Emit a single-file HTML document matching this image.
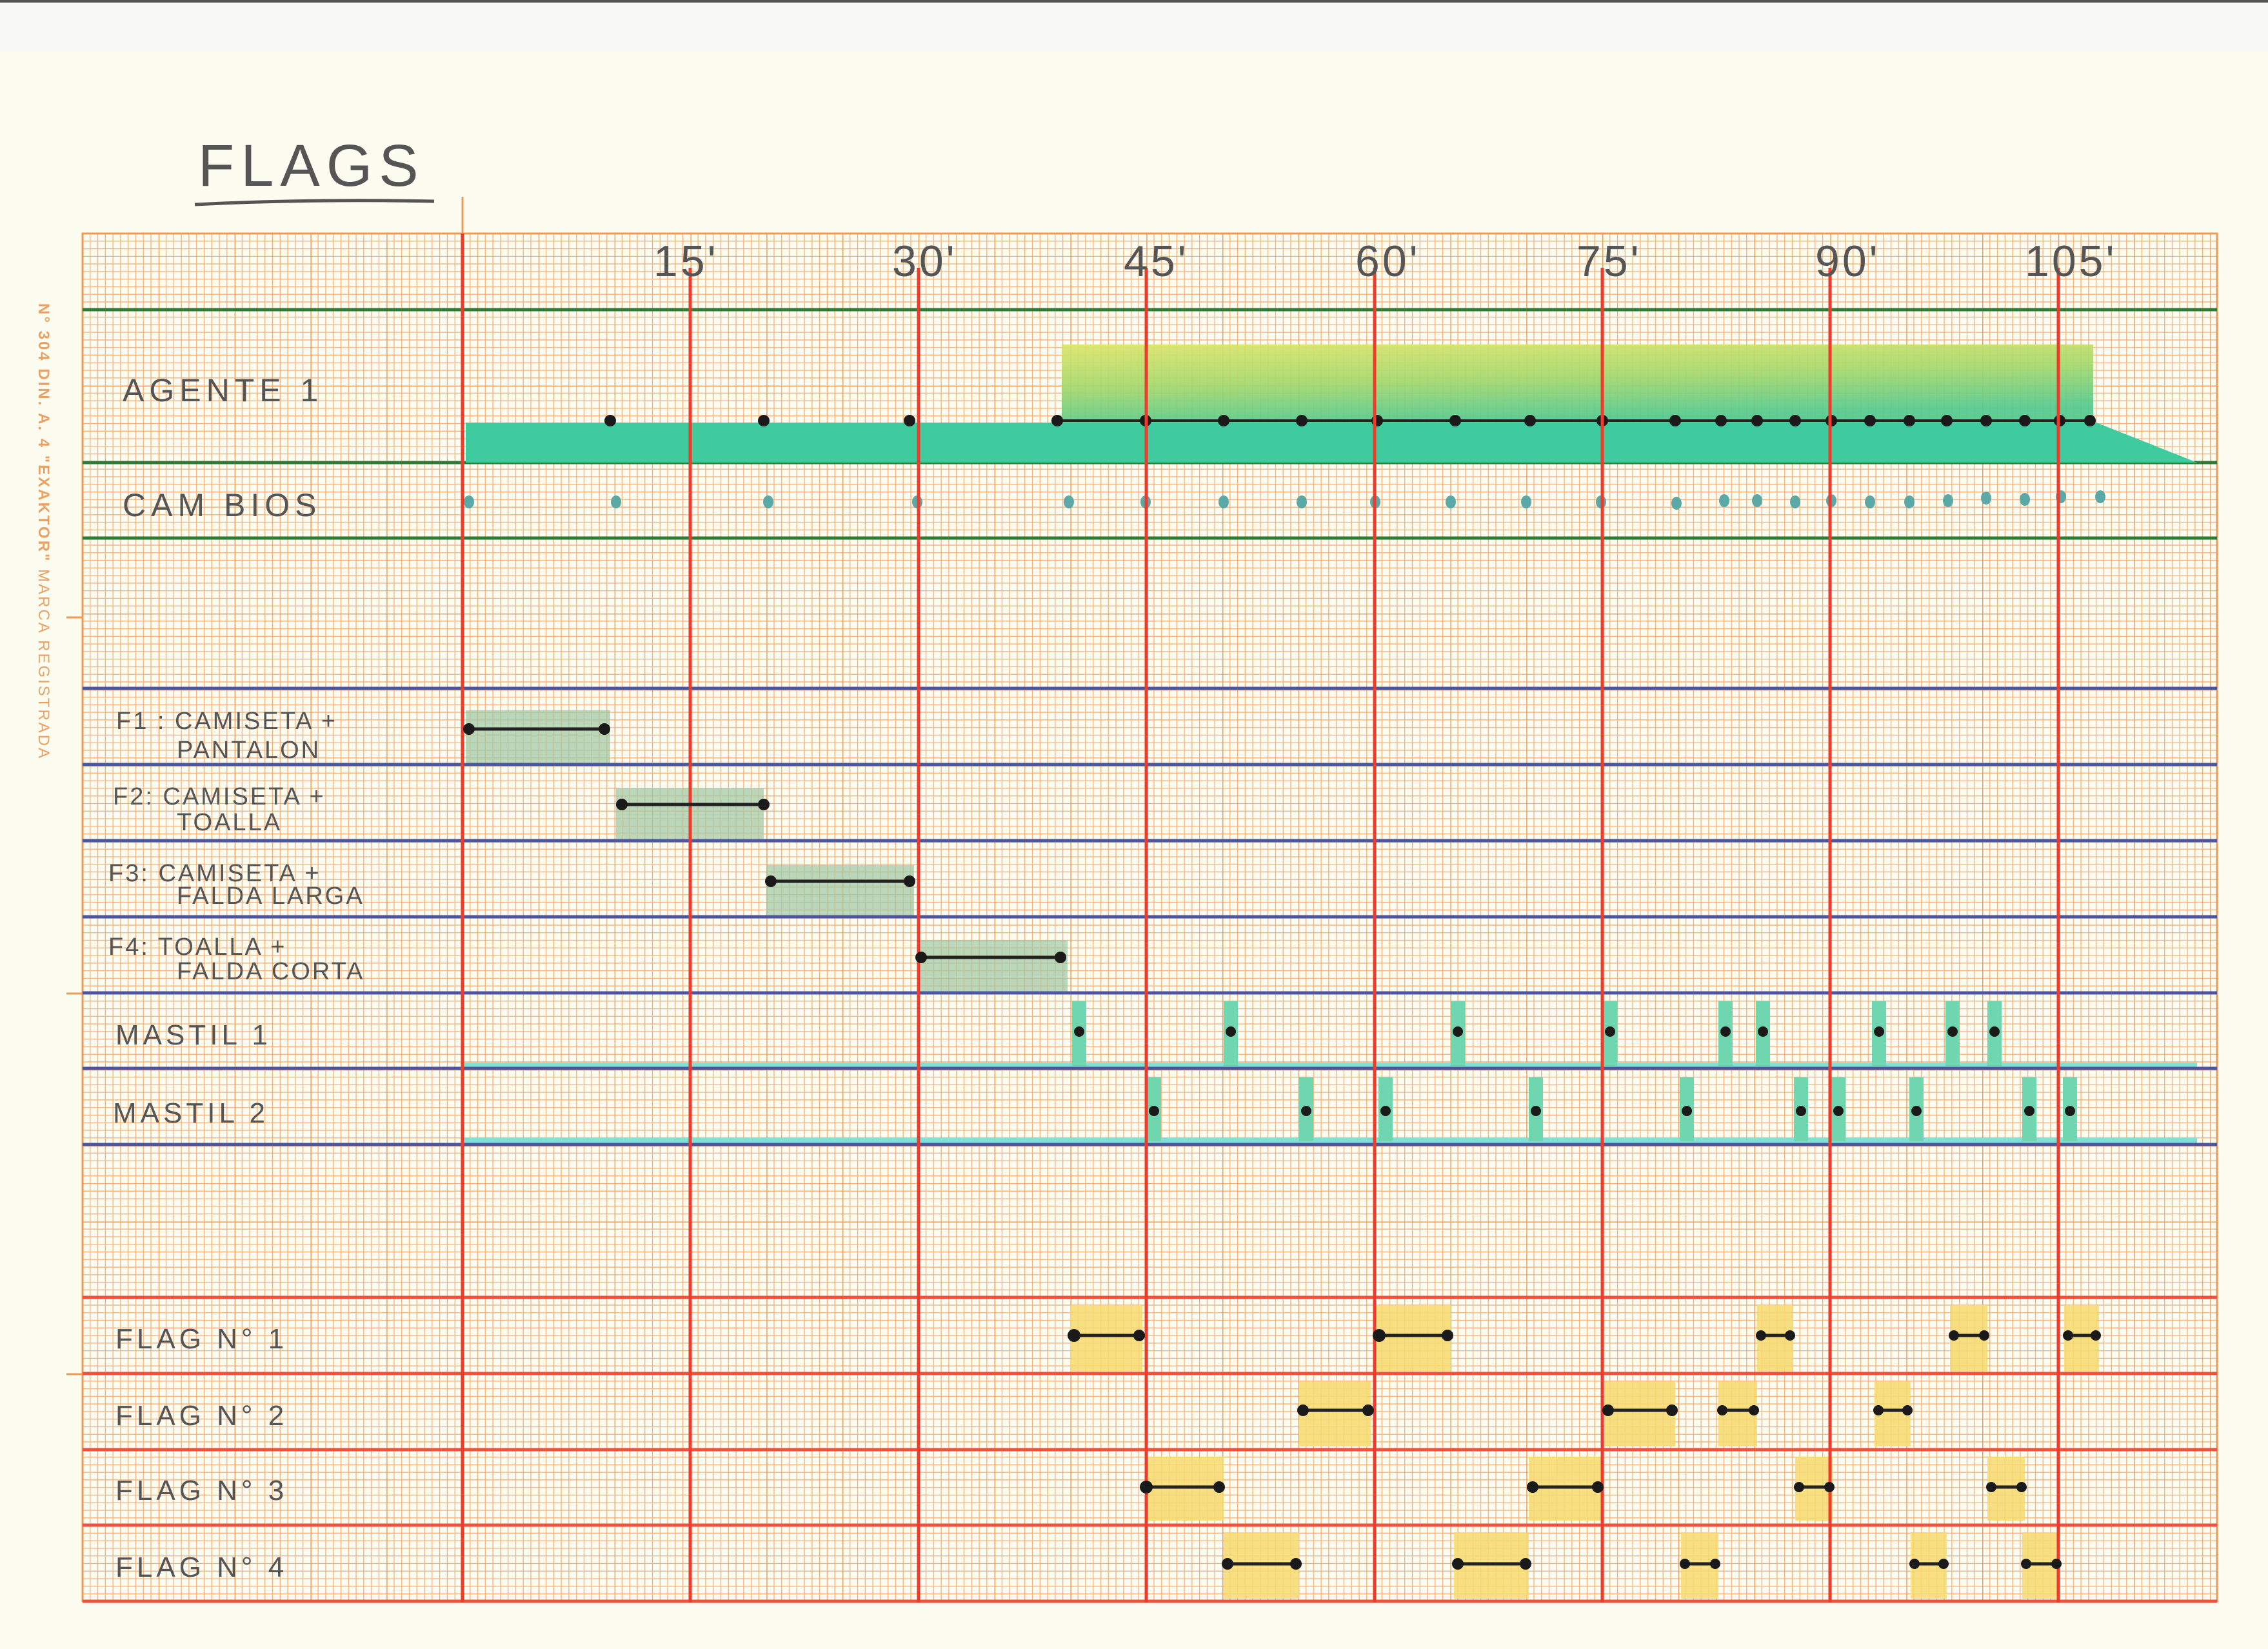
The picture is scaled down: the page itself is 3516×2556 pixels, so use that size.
<!DOCTYPE html>
<html><head><meta charset="utf-8"><style>
html,body{margin:0;padding:0;background:#fdfcf0;}
svg{display:block}
text{font-family:"Liberation Sans",sans-serif;fill:#555;}
</style></head><body>
<svg width="3516" height="2556" viewBox="0 0 3516 2556" xmlns="http://www.w3.org/2000/svg">
<defs>
<pattern id="g" x="128" y="362" width="117.8" height="117.8" patternUnits="userSpaceOnUse">
<g stroke="#f3b07a" stroke-width="1.3">
<line x1="11.78" y1="0" x2="11.78" y2="117.8"/><line x1="23.56" y1="0" x2="23.56" y2="117.8"/><line x1="35.34" y1="0" x2="35.34" y2="117.8"/><line x1="47.12" y1="0" x2="47.12" y2="117.8"/><line x1="58.9" y1="0" x2="58.9" y2="117.8"/><line x1="70.68" y1="0" x2="70.68" y2="117.8"/><line x1="82.46" y1="0" x2="82.46" y2="117.8"/><line x1="94.24" y1="0" x2="94.24" y2="117.8"/><line x1="106.02" y1="0" x2="106.02" y2="117.8"/>
<line y1="11.78" x1="0" y2="11.78" x2="117.8"/><line y1="23.56" x1="0" y2="23.56" x2="117.8"/><line y1="35.34" x1="0" y2="35.34" x2="117.8"/><line y1="47.12" x1="0" y2="47.12" x2="117.8"/><line y1="58.9" x1="0" y2="58.9" x2="117.8"/><line y1="70.68" x1="0" y2="70.68" x2="117.8"/><line y1="82.46" x1="0" y2="82.46" x2="117.8"/><line y1="94.24" x1="0" y2="94.24" x2="117.8"/><line y1="106.02" x1="0" y2="106.02" x2="117.8"/>
</g>
<g stroke="#eca060" stroke-width="3"><line x1="0" y1="0" x2="0" y2="117.8"/><line x1="0" y1="0" x2="117.8" y2="0"/></g>
</pattern>
<linearGradient id="yg" x1="0" y1="0" x2="0.3" y2="1">
<stop offset="0" stop-color="#dbe56a"/><stop offset="0.5" stop-color="#a6d86c"/><stop offset="1" stop-color="#52c98e"/>
</linearGradient>
</defs>
<rect x="0" y="0" width="3516" height="80" fill="#f8f8f6"/>
<rect x="0" y="0" width="3516" height="4" fill="#555"/>
<rect x="0" y="80" width="3516" height="2476" fill="#fdfcf0"/>

<rect x="128" y="362" width="3309" height="2120" fill="url(#g)"/>
<rect x="128" y="362" width="3309" height="2120" fill="none" stroke="#ec9a55" stroke-width="3"/>
<line x1="717" y1="305" x2="717" y2="362" stroke="#ec9a55" stroke-width="3"/>
<g stroke="#ec9a55" stroke-width="3"><line x1="103" y1="957" x2="128" y2="957"/><line x1="103" y1="1540" x2="128" y2="1540"/><line x1="103" y1="2130" x2="128" y2="2130"/></g>

<text transform="translate(60,470) rotate(90)" font-size="24" font-weight="bold" style="fill:#e9a265" letter-spacing="3">N° 304  DIN. A. 4 "EXAKTOR" <tspan font-weight="normal">MARCA REGISTRADA</tspan></text>

<g stroke="#2f7a34" stroke-width="5"><line x1="128" y1="480" x2="3437" y2="480"/><line x1="128" y1="717" x2="3437" y2="717"/><line x1="128" y1="834" x2="3437" y2="834"/></g>

<polygon points="722,655 3250,655 3406,717 722,717" fill="#3fcb9d"/>
<rect x="1646" y="534" width="1599" height="121" fill="url(#yg)" opacity="0.92"/>
<line x1="1639" y1="652" x2="3240" y2="652" stroke="#222" stroke-width="4"/>
<g fill="#1a1a1a">
<circle cx="946" cy="652" r="9"/><circle cx="1184" cy="652" r="9"/><circle cx="1410" cy="652" r="9"/><circle cx="1639" cy="652" r="9"/><circle cx="1776" cy="652" r="9"/><circle cx="1897" cy="652" r="9"/><circle cx="2018" cy="652" r="9"/><circle cx="2135" cy="652" r="9"/><circle cx="2256" cy="652" r="9"/><circle cx="2372" cy="652" r="9"/><circle cx="2484" cy="652" r="9"/><circle cx="2597" cy="652" r="9"/><circle cx="2668" cy="652" r="9"/><circle cx="2724" cy="652" r="9"/><circle cx="2783" cy="652" r="9"/><circle cx="2839" cy="652" r="9"/><circle cx="2899" cy="652" r="9"/><circle cx="2960" cy="652" r="9"/><circle cx="3018" cy="652" r="9"/><circle cx="3079" cy="652" r="9"/><circle cx="3139" cy="652" r="9"/><circle cx="3193" cy="652" r="9"/><circle cx="3240" cy="652" r="9"/>
</g>
<g fill="#5aa9a6">
<ellipse cx="727" cy="778" rx="8" ry="10"/><ellipse cx="955" cy="778" rx="8" ry="10"/><ellipse cx="1191" cy="778" rx="8" ry="10"/><ellipse cx="1422" cy="778" rx="8" ry="10"/><ellipse cx="1657" cy="778" rx="8" ry="10"/><ellipse cx="1776" cy="778" rx="8" ry="10"/><ellipse cx="1897" cy="778" rx="8" ry="10"/><ellipse cx="2018" cy="778" rx="8" ry="10"/><ellipse cx="2132" cy="778" rx="8" ry="10"/><ellipse cx="2249" cy="778" rx="8" ry="10"/><ellipse cx="2366" cy="778" rx="8" ry="10"/><ellipse cx="2482" cy="778" rx="8" ry="10"/><ellipse cx="2599" cy="780" rx="8" ry="10"/><ellipse cx="2673" cy="776" rx="8" ry="10"/><ellipse cx="2724" cy="776" rx="8" ry="10"/><ellipse cx="2783" cy="778" rx="8" ry="10"/><ellipse cx="2839" cy="776" rx="8" ry="10"/><ellipse cx="2899" cy="778" rx="8" ry="10"/><ellipse cx="2960" cy="778" rx="8" ry="10"/><ellipse cx="3020" cy="776" rx="8" ry="10"/><ellipse cx="3079" cy="772" rx="8" ry="10"/><ellipse cx="3139" cy="774" rx="8" ry="10"/><ellipse cx="3195" cy="770" rx="8" ry="10"/><ellipse cx="3256" cy="770" rx="8" ry="10"/>
</g>

<g fill="#9ec8a4" opacity="0.7">
<rect x="722" y="1101" width="224" height="85"/><rect x="955" y="1222" width="229" height="78"/><rect x="1188" y="1341" width="229" height="81"/><rect x="1422" y="1457" width="233" height="83"/>
</g>

<g fill="#7fe0d6"><rect x="717" y="1647" width="2689" height="10"/><rect x="717" y="1764" width="2689" height="10"/></g>
<g fill="#6fd6b0">
<rect x="1662" y="1552" width="22" height="100"/><rect x="1897" y="1552" width="22" height="100"/><rect x="2249" y="1552" width="22" height="100"/><rect x="2485" y="1552" width="22" height="100"/><rect x="2664" y="1552" width="22" height="100"/><rect x="2722" y="1552" width="22" height="100"/><rect x="2902" y="1552" width="22" height="100"/><rect x="3016" y="1552" width="22" height="100"/><rect x="3081" y="1552" width="22" height="100"/>
<rect x="1778" y="1670" width="22" height="99"/><rect x="2014" y="1670" width="22" height="99"/><rect x="2137" y="1670" width="22" height="99"/><rect x="2370" y="1670" width="22" height="99"/><rect x="2604" y="1670" width="22" height="99"/><rect x="2781" y="1670" width="22" height="99"/><rect x="2839" y="1670" width="22" height="99"/><rect x="2960" y="1670" width="22" height="99"/><rect x="3135" y="1670" width="22" height="99"/><rect x="3198" y="1670" width="22" height="99"/>
</g>

<g fill="#f6db72" opacity="0.88">
<rect x="1659" y="2023" width="112" height="103"/><rect x="2132" y="2023" width="117" height="103"/><rect x="2724" y="2023" width="56" height="103"/><rect x="3023" y="2023" width="58" height="103"/><rect x="3200" y="2023" width="54" height="103"/>
<rect x="2014" y="2141" width="112" height="101"/><rect x="2487" y="2141" width="110" height="101"/><rect x="2664" y="2141" width="60" height="101"/><rect x="2906" y="2141" width="56" height="101"/>
<rect x="1776" y="2258" width="121" height="99"/><rect x="2370" y="2258" width="112" height="99"/><rect x="2783" y="2258" width="58" height="99"/><rect x="3081" y="2258" width="58" height="99"/>
<rect x="1897" y="2375" width="117" height="103"/><rect x="2254" y="2375" width="116" height="103"/><rect x="2606" y="2375" width="58" height="103"/><rect x="2962" y="2375" width="56" height="103"/><rect x="3135" y="2375" width="58" height="103"/>
</g>

<g stroke="#4b55a0" stroke-width="5"><line x1="128" y1="1067" x2="3437" y2="1067"/><line x1="128" y1="1185" x2="3437" y2="1185"/><line x1="128" y1="1303" x2="3437" y2="1303"/><line x1="128" y1="1421" x2="3437" y2="1421"/><line x1="128" y1="1539" x2="3437" y2="1539"/><line x1="128" y1="1656" x2="3437" y2="1656"/><line x1="128" y1="1774" x2="3437" y2="1774"/></g>
<g stroke="#f0503c" stroke-width="5"><line x1="128" y1="2011" x2="3437" y2="2011"/><line x1="128" y1="2129" x2="3437" y2="2129"/><line x1="128" y1="2247" x2="3437" y2="2247"/><line x1="128" y1="2364" x2="3437" y2="2364"/><line x1="128" y1="2482" x2="3437" y2="2482"/></g>
<g stroke="#ee3b2b" stroke-width="5"><line x1="717" y1="362" x2="717" y2="2484"/><line x1="1070" y1="415" x2="1070" y2="2484"/><line x1="1424" y1="415" x2="1424" y2="2484"/><line x1="1777" y1="415" x2="1777" y2="2484"/><line x1="2131" y1="415" x2="2131" y2="2484"/><line x1="2484" y1="415" x2="2484" y2="2484"/><line x1="2837" y1="415" x2="2837" y2="2484"/><line x1="3191" y1="415" x2="3191" y2="2484"/></g>

<g stroke="#222" stroke-width="5">
<line x1="727" y1="1130" x2="937" y2="1130"/><line x1="964" y1="1247" x2="1184" y2="1247"/><line x1="1195" y1="1366" x2="1410" y2="1366"/><line x1="1428" y1="1484" x2="1644" y2="1484"/>
<line x1="1665" y1="2070" x2="1766" y2="2070"/><line x1="2138" y1="2070" x2="2244" y2="2070"/><line x1="2730" y1="2070" x2="2775" y2="2070"/><line x1="3029" y1="2070" x2="3076" y2="2070"/><line x1="3206" y1="2070" x2="3249" y2="2070"/>
<line x1="2020" y1="2186" x2="2121" y2="2186"/><line x1="2493" y1="2186" x2="2592" y2="2186"/><line x1="2670" y1="2186" x2="2719" y2="2186"/><line x1="2912" y1="2186" x2="2957" y2="2186"/>
<line x1="1777" y1="2305" x2="1890" y2="2305"/><line x1="2376" y1="2305" x2="2477" y2="2305"/><line x1="2789" y1="2305" x2="2836" y2="2305"/><line x1="3087" y1="2305" x2="3134" y2="2305"/>
<line x1="1903" y1="2424" x2="2009" y2="2424"/><line x1="2260" y1="2424" x2="2365" y2="2424"/><line x1="2612" y1="2424" x2="2659" y2="2424"/><line x1="2968" y1="2424" x2="3013" y2="2424"/><line x1="3141" y1="2424" x2="3188" y2="2424"/>
</g>
<g fill="#1a1a1a">
<circle cx="727" cy="1130" r="9"/><circle cx="937" cy="1130" r="9"/><circle cx="964" cy="1247" r="9"/><circle cx="1184" cy="1247" r="9"/><circle cx="1195" cy="1366" r="9"/><circle cx="1410" cy="1366" r="9"/><circle cx="1428" cy="1484" r="9"/><circle cx="1644" cy="1484" r="9"/>
<circle cx="1673" cy="1599" r="8"/><circle cx="1908" cy="1599" r="8"/><circle cx="2260" cy="1599" r="8"/><circle cx="2496" cy="1599" r="8"/><circle cx="2675" cy="1599" r="8"/><circle cx="2733" cy="1599" r="8"/><circle cx="2913" cy="1599" r="8"/><circle cx="3027" cy="1599" r="8"/><circle cx="3092" cy="1599" r="8"/>
<circle cx="1789" cy="1722" r="8"/><circle cx="2025" cy="1722" r="8"/><circle cx="2148" cy="1722" r="8"/><circle cx="2381" cy="1722" r="8"/><circle cx="2615" cy="1722" r="8"/><circle cx="2792" cy="1722" r="8"/><circle cx="2850" cy="1722" r="8"/><circle cx="2971" cy="1722" r="8"/><circle cx="3146" cy="1722" r="8"/><circle cx="3209" cy="1722" r="8"/>
<circle cx="1665" cy="2070" r="10"/><circle cx="1766" cy="2070" r="9"/><circle cx="2138" cy="2070" r="10"/><circle cx="2244" cy="2070" r="9"/><circle cx="2730" cy="2070" r="8"/><circle cx="2775" cy="2070" r="8"/><circle cx="3029" cy="2070" r="8"/><circle cx="3076" cy="2070" r="8"/><circle cx="3206" cy="2070" r="8"/><circle cx="3249" cy="2070" r="8"/>
<circle cx="2020" cy="2186" r="9"/><circle cx="2121" cy="2186" r="9"/><circle cx="2493" cy="2186" r="9"/><circle cx="2592" cy="2186" r="9"/><circle cx="2670" cy="2186" r="8"/><circle cx="2719" cy="2186" r="8"/><circle cx="2912" cy="2186" r="8"/><circle cx="2957" cy="2186" r="8"/>
<circle cx="1777" cy="2305" r="10"/><circle cx="1890" cy="2305" r="9"/><circle cx="2376" cy="2305" r="9"/><circle cx="2477" cy="2305" r="9"/><circle cx="2789" cy="2305" r="8"/><circle cx="2836" cy="2305" r="8"/><circle cx="3087" cy="2305" r="8"/><circle cx="3134" cy="2305" r="8"/>
<circle cx="1903" cy="2424" r="9"/><circle cx="2009" cy="2424" r="9"/><circle cx="2260" cy="2424" r="9"/><circle cx="2365" cy="2424" r="9"/><circle cx="2612" cy="2424" r="8"/><circle cx="2659" cy="2424" r="8"/><circle cx="2968" cy="2424" r="8"/><circle cx="3013" cy="2424" r="8"/><circle cx="3141" cy="2424" r="8"/><circle cx="3188" cy="2424" r="8"/>
</g>

<text x="307" y="288" font-size="92" letter-spacing="10">FLAGS</text>
<path d="M302 317 Q480 308 673 312" stroke="#555" stroke-width="5" fill="none"/>

<g font-size="68" letter-spacing="4">
<text x="1013" y="428">15'</text><text x="1383" y="428">30'</text><text x="1742" y="428">45'</text><text x="2101" y="428">60'</text><text x="2444" y="428">75'</text><text x="2814" y="428">90'</text><text x="3139" y="428">105'</text>
</g>

<g font-size="50" letter-spacing="8">
<text x="190" y="622">AGENTE 1</text>
<text x="190" y="800">CAM BIOS</text>
</g>
<g font-size="38" letter-spacing="3">
<text x="180" y="1130">F1 : CAMISETA +</text><text x="274" y="1175">PANTALON</text>
<text x="175" y="1247">F2: CAMISETA +</text><text x="274" y="1287">TOALLA</text>
<text x="168" y="1366">F3: CAMISETA +</text><text x="274" y="1401">FALDA LARGA</text>
<text x="168" y="1480">F4: TOALLA +</text><text x="274" y="1518">FALDA CORTA</text>
</g>
<g font-size="44" letter-spacing="6">
<text x="179" y="1619">MASTIL 1</text><text x="175" y="1740">MASTIL 2</text>
<text x="179" y="2090">FLAG N° 1</text><text x="179" y="2209">FLAG N° 2</text><text x="179" y="2325">FLAG N° 3</text><text x="179" y="2444">FLAG N° 4</text>
</g>
</svg>
</body></html>
